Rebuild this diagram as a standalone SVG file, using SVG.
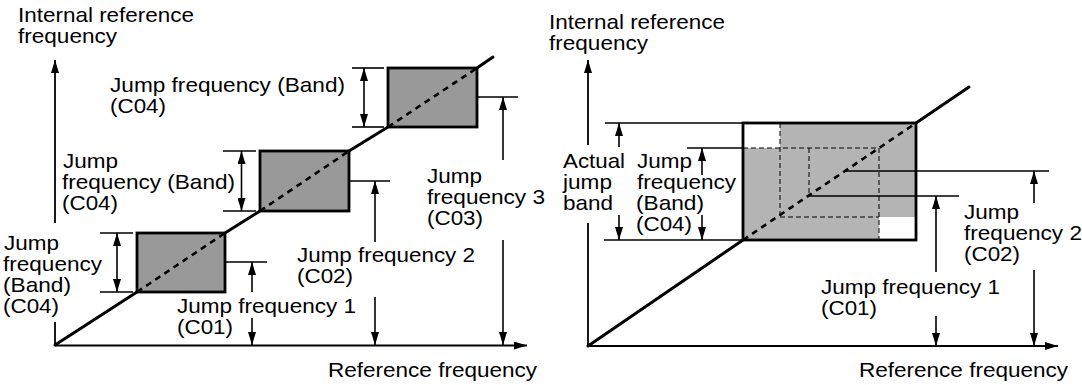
<svg xmlns="http://www.w3.org/2000/svg" width="1082" height="385" viewBox="0 0 1082 385">
<style>
text{font-family:"Liberation Sans",Arial,sans-serif;font-size:21px;fill:#000}
.ax{stroke:#000;stroke-width:1.8;fill:none}
.st{stroke:#000;stroke-width:3;fill:none;stroke-linecap:round}
.bx{fill:#999;stroke:#000;stroke-width:2.8}
.dg{stroke:#000;stroke-width:2.6;stroke-dasharray:6,5;fill:none}
.dm{stroke:#000;stroke-width:1.6;fill:none}
.td{stroke:#000;stroke-width:1;stroke-dasharray:5,3;fill:none}
</style>
<defs>
<marker id="ah" viewBox="0 0 13 8" refX="13" refY="4" markerWidth="13" markerHeight="8" markerUnits="userSpaceOnUse" orient="auto-start-reverse">
<path d="M0,0 L13,4 L0,8 z" fill="#000"/>
</marker>
</defs>
<g id="left-graph">
<g id="left-connectors">
<line class="ax" x1="55" y1="223" x2="55" y2="60" marker-end="url(#ah)"/>
<line class="ax" x1="55" y1="322" x2="55" y2="345.5"/>
<line class="ax" x1="55" y1="345.5" x2="527" y2="345.5" marker-end="url(#ah)"/>
<line class="st" x1="55" y1="345" x2="137" y2="292"/>
<line class="st" x1="225" y1="233" x2="260" y2="211"/>
<line class="st" x1="349" y1="151" x2="388" y2="127"/>
<line class="st" x1="477" y1="68" x2="493" y2="57"/>
<line class="dm" x1="100" y1="233" x2="133" y2="233"/>
<line class="dm" x1="100" y1="292" x2="133" y2="292"/>
<line class="dm" x1="117" y1="233" x2="117" y2="292" marker-start="url(#ah)" marker-end="url(#ah)"/>
<line class="dm" x1="223" y1="151" x2="256" y2="151"/>
<line class="dm" x1="223" y1="211" x2="256" y2="211"/>
<line class="dm" x1="241.5" y1="151" x2="241.5" y2="211" marker-start="url(#ah)" marker-end="url(#ah)"/>
<line class="dm" x1="352" y1="68" x2="384" y2="68"/>
<line class="dm" x1="352" y1="127" x2="384" y2="127"/>
<line class="dm" x1="364" y1="68" x2="364" y2="127" marker-start="url(#ah)" marker-end="url(#ah)"/>
<line class="dm" x1="181" y1="262" x2="267" y2="262"/>
<line class="dm" x1="252" y1="292" x2="252" y2="262" marker-end="url(#ah)"/>
<line class="dm" x1="252" y1="318" x2="252" y2="345" marker-end="url(#ah)"/>
<line class="dm" x1="305" y1="181" x2="390" y2="181"/>
<line class="dm" x1="375" y1="242" x2="375" y2="181" marker-end="url(#ah)"/>
<line class="dm" x1="375" y1="297" x2="375" y2="345" marker-end="url(#ah)"/>
<line class="dm" x1="433" y1="97" x2="518" y2="97"/>
<line class="dm" x1="503" y1="160" x2="503" y2="97" marker-end="url(#ah)"/>
<line class="dm" x1="503" y1="240" x2="503" y2="345" marker-end="url(#ah)"/>
</g>
<g id="box1"><rect class="bx" x="137" y="233" width="88" height="59"/><line class="dg" x1="137" y1="292" x2="225" y2="233"/></g>
<g id="box2"><rect class="bx" x="260" y="151" width="89" height="60"/><line class="dg" x1="260" y1="211" x2="349" y2="151"/></g>
<g id="box3"><rect class="bx" x="388" y="68" width="89" height="59"/><line class="dg" x1="388" y1="127" x2="477" y2="68"/></g>
<g id="left-labels">
<text x="18" y="22" textLength="176" lengthAdjust="spacingAndGlyphs">Internal reference</text>
<text x="18" y="43" textLength="99" lengthAdjust="spacingAndGlyphs">frequency</text>
<text x="110" y="92" textLength="235" lengthAdjust="spacingAndGlyphs">Jump frequency (Band)</text>
<text x="110" y="113" textLength="56" lengthAdjust="spacingAndGlyphs">(C04)</text>
<text x="63" y="168" textLength="55" lengthAdjust="spacingAndGlyphs">Jump</text>
<text x="62" y="189" textLength="173" lengthAdjust="spacingAndGlyphs">frequency (Band)</text>
<text x="62" y="210" textLength="56" lengthAdjust="spacingAndGlyphs">(C04)</text>
<text x="4" y="250" textLength="55" lengthAdjust="spacingAndGlyphs">Jump</text>
<text x="3" y="271" textLength="99" lengthAdjust="spacingAndGlyphs">frequency</text>
<text x="3" y="292" textLength="68" lengthAdjust="spacingAndGlyphs">(Band)</text>
<text x="3" y="313" textLength="56" lengthAdjust="spacingAndGlyphs">(C04)</text>
<text x="177" y="313" textLength="179" lengthAdjust="spacingAndGlyphs">Jump frequency 1</text>
<text x="177" y="334" textLength="56" lengthAdjust="spacingAndGlyphs">(C01)</text>
<text x="297" y="262" textLength="178" lengthAdjust="spacingAndGlyphs">Jump frequency 2</text>
<text x="297" y="283" textLength="56" lengthAdjust="spacingAndGlyphs">(C02)</text>
<text x="427" y="183" textLength="55" lengthAdjust="spacingAndGlyphs">Jump</text>
<text x="427" y="204" textLength="118" lengthAdjust="spacingAndGlyphs">frequency 3</text>
<text x="427" y="225" textLength="56" lengthAdjust="spacingAndGlyphs">(C03)</text>
<text x="328" y="377" textLength="209" lengthAdjust="spacingAndGlyphs">Reference frequency</text>
</g>
</g>
<g id="right-graph">
<g id="right-box">
<rect x="743" y="123" width="173" height="117" fill="#b4b4b4"/>
<rect x="743" y="123" width="37" height="25" fill="#fff"/>
<rect x="879" y="217" width="37" height="23" fill="#fff"/>
<line class="td" x1="743" y1="148" x2="879" y2="148"/>
<line class="td" x1="780" y1="123" x2="780" y2="217"/>
<line class="td" x1="780" y1="217" x2="879" y2="217"/>
<line class="td" x1="879" y1="148" x2="879" y2="240"/>
<line class="td" x1="809" y1="148" x2="809" y2="196"/>
<rect x="743" y="123" width="173" height="117" fill="none" stroke="#000" stroke-width="2.8"/>
<line class="dg" x1="743" y1="240" x2="916" y2="123"/>
</g>
<g id="right-connectors">
<line class="ax" x1="588" y1="145" x2="588" y2="60" marker-end="url(#ah)"/>
<line class="ax" x1="588" y1="223" x2="588" y2="346"/>
<line class="ax" x1="588" y1="346" x2="1058" y2="346" marker-end="url(#ah)"/>
<line class="st" x1="588" y1="346" x2="743" y2="240"/>
<line class="st" x1="916" y1="123" x2="969" y2="87"/>
<line class="dm" x1="845" y1="171" x2="1049" y2="171"/>
<line class="dm" x1="808" y1="196" x2="959" y2="196"/>
<line class="dm" x1="1034" y1="203" x2="1034" y2="171" marker-end="url(#ah)"/>
<line class="dm" x1="1034" y1="270" x2="1034" y2="346" marker-end="url(#ah)"/>
<line class="dm" x1="936" y1="272" x2="936" y2="196" marker-end="url(#ah)"/>
<line class="dm" x1="936" y1="316" x2="936" y2="346" marker-end="url(#ah)"/>
<line class="dm" x1="605" y1="123" x2="743" y2="123"/>
<line class="dm" x1="687" y1="148" x2="743" y2="148"/>
<line class="dm" x1="604" y1="240" x2="743" y2="240"/>
<line class="dm" x1="619" y1="147" x2="619" y2="123" marker-end="url(#ah)"/>
<line class="dm" x1="619" y1="215" x2="619" y2="240" marker-end="url(#ah)"/>
<line class="dm" x1="702" y1="175" x2="702" y2="148" marker-end="url(#ah)"/>
<line class="dm" x1="702" y1="215" x2="702" y2="240" marker-end="url(#ah)"/>
</g>
<g id="right-labels">
<text x="549" y="29" textLength="176" lengthAdjust="spacingAndGlyphs">Internal reference</text>
<text x="549" y="50" textLength="99" lengthAdjust="spacingAndGlyphs">frequency</text>
<text x="563" y="168" textLength="62" lengthAdjust="spacingAndGlyphs">Actual</text>
<text x="563" y="189" textLength="49" lengthAdjust="spacingAndGlyphs">jump</text>
<text x="563" y="210" textLength="50" lengthAdjust="spacingAndGlyphs">band</text>
<text x="637" y="168" textLength="55" lengthAdjust="spacingAndGlyphs">Jump</text>
<text x="637" y="189" textLength="99" lengthAdjust="spacingAndGlyphs">frequency</text>
<text x="636" y="210" textLength="68" lengthAdjust="spacingAndGlyphs">(Band)</text>
<text x="636" y="231" textLength="56" lengthAdjust="spacingAndGlyphs">(C04)</text>
<text x="964" y="219" textLength="55" lengthAdjust="spacingAndGlyphs">Jump</text>
<text x="964" y="240" textLength="118" lengthAdjust="spacingAndGlyphs">frequency 2</text>
<text x="964" y="261" textLength="56" lengthAdjust="spacingAndGlyphs">(C02)</text>
<text x="821" y="294" textLength="179" lengthAdjust="spacingAndGlyphs">Jump frequency 1</text>
<text x="821" y="315" textLength="56" lengthAdjust="spacingAndGlyphs">(C01)</text>
<text x="859" y="377" textLength="209" lengthAdjust="spacingAndGlyphs">Reference frequency</text>
</g>
</g>
</svg>
